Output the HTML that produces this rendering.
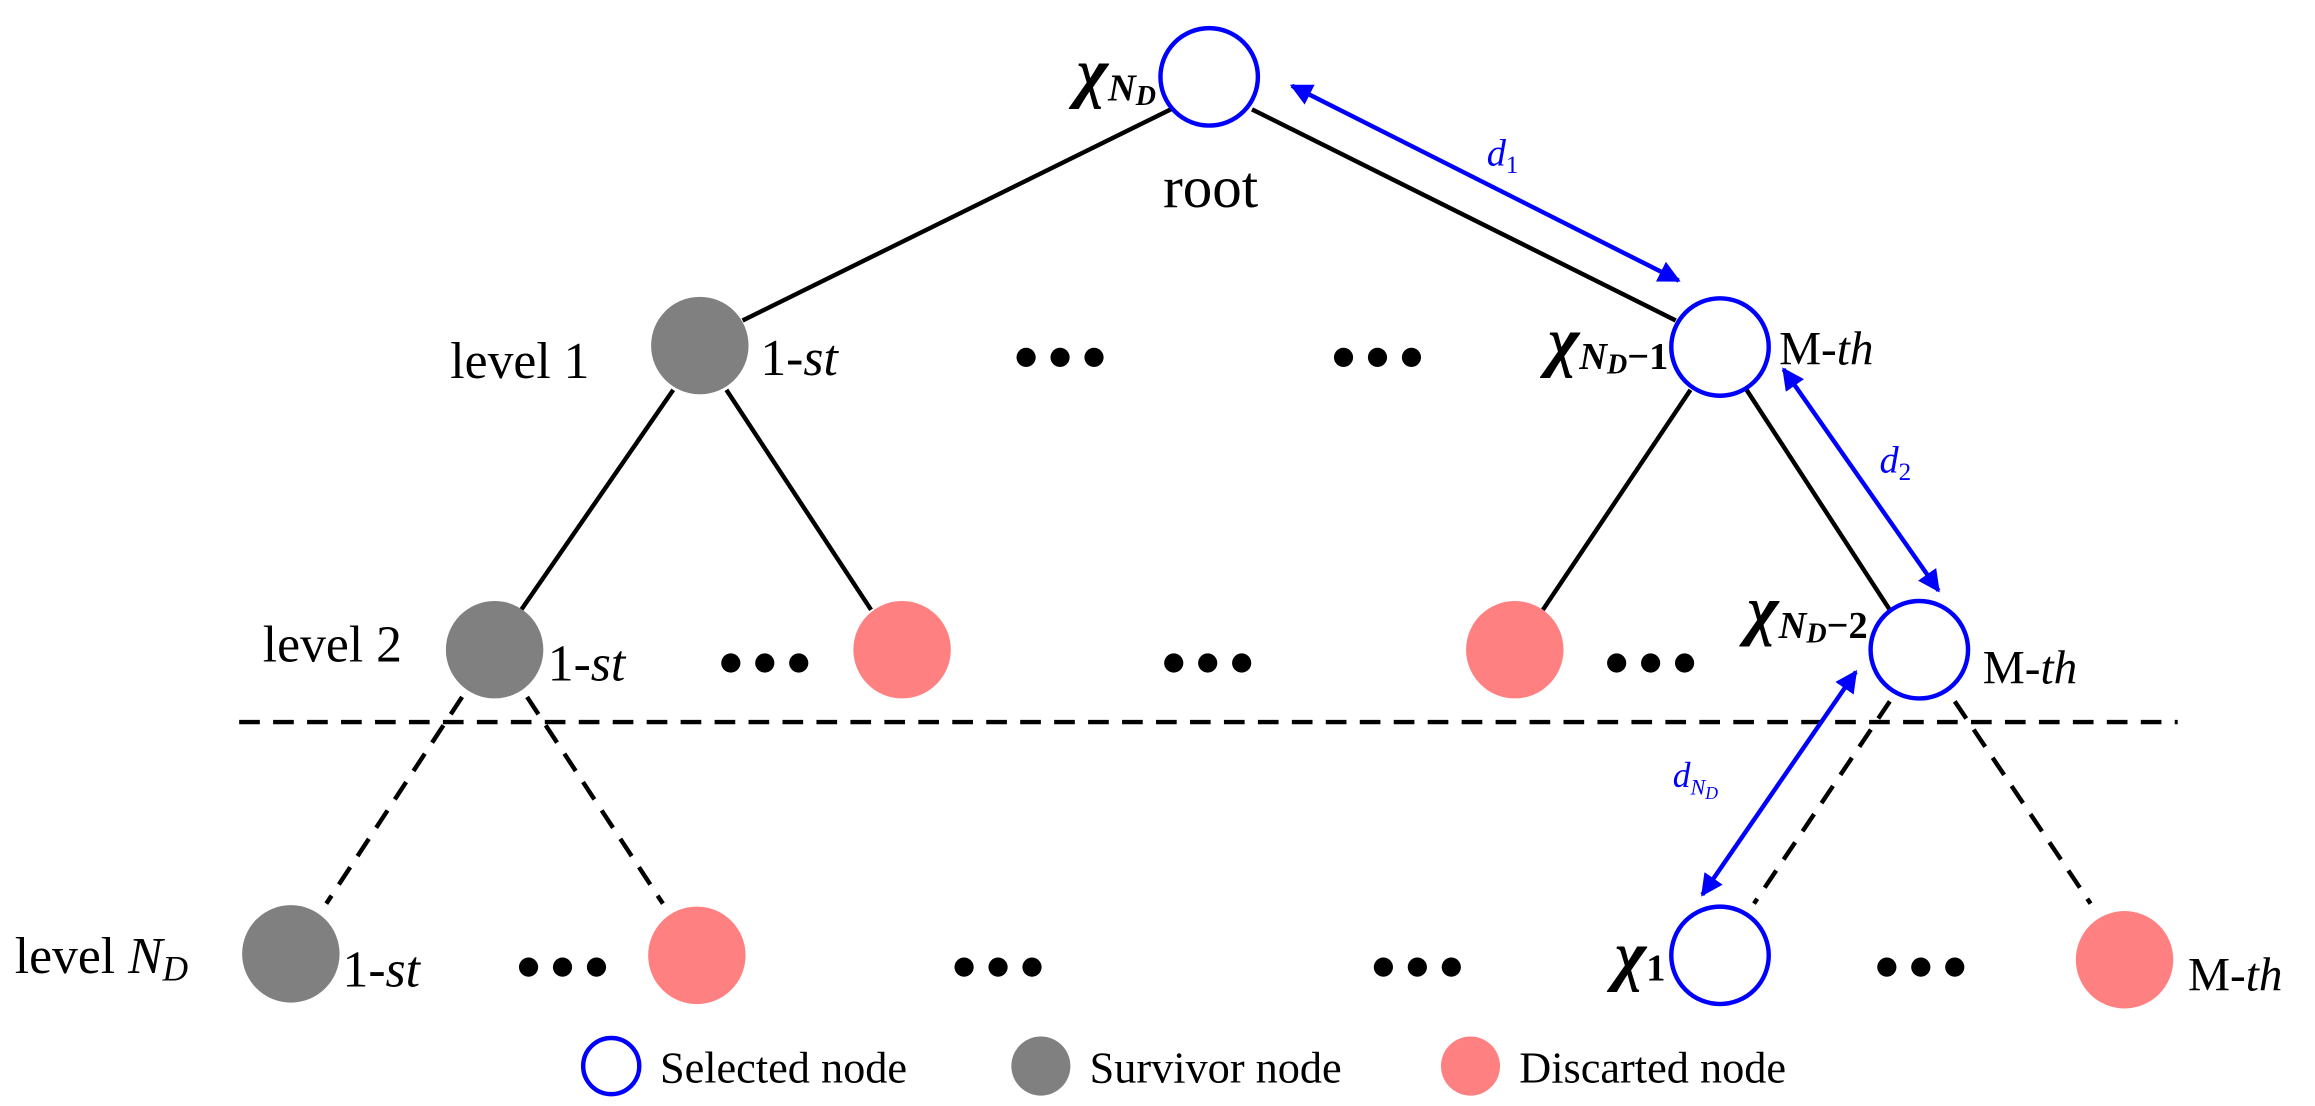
<!DOCTYPE html>
<html><head><style>
html,body{margin:0;padding:0;background:#fff;}
svg{display:block;}
text{font-family:"Liberation Serif",serif;}
</style></head><body>
<svg width="2315" height="1106" viewBox="0 0 1568 749" xmlns="http://www.w3.org/2000/svg">
<defs>
<marker id="ah" viewBox="0 0 10 10" refX="9" refY="5" markerWidth="5" markerHeight="5" orient="auto-start-reverse"><path d="M0,0 L10,5 L0,10 z" fill="#0000ff"/></marker>
</defs>
<g stroke="#000" stroke-width="3" fill="none">
<line x1="793" y1="74" x2="503" y2="217"/>
<line x1="848" y1="74" x2="1135" y2="217"/>
<line x1="456" y1="264" x2="353" y2="413"/>
<line x1="492" y1="264" x2="590" y2="413"/>
<line x1="1145" y1="264" x2="1045" y2="413"/>
<line x1="1183" y1="264" x2="1280" y2="413"/>
</g>
<g stroke="#000" stroke-width="3" fill="none" stroke-dasharray="14,9">
<line x1="162" y1="489" x2="1475" y2="489"/>
<line x1="313" y1="472" x2="221" y2="612"/>
<line x1="357" y1="472" x2="449" y2="612"/>
<line x1="1280" y1="475" x2="1188" y2="612"/>
<line x1="1324" y1="475" x2="1416" y2="612"/>
</g>
<g stroke="#0000ff" stroke-width="3" fill="none" marker-start="url(#ah)" marker-end="url(#ah)">
<line x1="875" y1="58" x2="1137" y2="190"/>
<line x1="1208" y1="250" x2="1313" y2="400"/>
<line x1="1257" y1="455" x2="1153" y2="606"/>
</g>
<g fill="#fff" stroke="#0000ff" stroke-width="3">
<circle cx="819" cy="52" r="33"/>
<circle cx="1165" cy="235" r="33"/>
<circle cx="1300" cy="440" r="33"/>
<circle cx="1165" cy="647" r="33"/>
<circle cx="414" cy="722" r="19"/>
</g>
<g fill="#808080">
<circle cx="474" cy="234" r="33"/>
<circle cx="335" cy="440" r="33"/>
<circle cx="197" cy="646" r="33"/>
<circle cx="705" cy="722" r="20"/>
</g>
<g fill="#ff8080">
<circle cx="611" cy="440" r="33"/>
<circle cx="1026" cy="440" r="33"/>
<circle cx="472" cy="647" r="33"/>
<circle cx="1439" cy="650" r="33"/>
<circle cx="996" cy="722" r="20"/>
</g>
<g fill="#000">
<circle cx="695" cy="242" r="6.5"/><circle cx="718" cy="242" r="6.5"/><circle cx="741" cy="242" r="6.5"/>
<circle cx="910" cy="242" r="6.5"/><circle cx="933" cy="242" r="6.5"/><circle cx="956" cy="242" r="6.5"/>
<circle cx="495" cy="449" r="6.5"/><circle cx="518" cy="449" r="6.5"/><circle cx="541" cy="449" r="6.5"/>
<circle cx="795" cy="449" r="6.5"/><circle cx="818" cy="449" r="6.5"/><circle cx="841" cy="449" r="6.5"/>
<circle cx="1095" cy="449" r="6.5"/><circle cx="1118" cy="449" r="6.5"/><circle cx="1141" cy="449" r="6.5"/>
<circle cx="358" cy="655" r="6.5"/><circle cx="381" cy="655" r="6.5"/><circle cx="404" cy="655" r="6.5"/>
<circle cx="653" cy="655" r="6.5"/><circle cx="676" cy="655" r="6.5"/><circle cx="699" cy="655" r="6.5"/>
<circle cx="937" cy="655" r="6.5"/><circle cx="960" cy="655" r="6.5"/><circle cx="983" cy="655" r="6.5"/>
<circle cx="1278" cy="655" r="6.5"/><circle cx="1301" cy="655" r="6.5"/><circle cx="1324" cy="655" r="6.5"/>
</g>
<g font-size="34" fill="#000">
<text x="783" y="64" text-anchor="end" font-weight="bold"><tspan font-style="italic" font-size="46">χ</tspan><tspan font-size="26" dy="4" font-style="italic">N<tspan font-size="19" dy="3">D</tspan></tspan></text>
<text x="820" y="140" text-anchor="middle" font-size="40">root</text>
<text x="305" y="256" font-size="35">level 1</text>
<text x="515" y="254" font-size="35">1-<tspan font-style="italic">st</tspan></text>
<text x="1130" y="246" text-anchor="end" font-weight="bold"><tspan font-style="italic" font-size="46">χ</tspan><tspan font-size="26" dy="4"><tspan font-style="italic">N</tspan><tspan font-size="19" dy="3" font-style="italic">D</tspan><tspan dy="-3">−1</tspan></tspan></text>
<text x="1205" y="247" font-size="32">M-<tspan font-style="italic">th</tspan></text>
<text x="178" y="448" font-size="35">level 2</text>
<text x="371" y="461" font-size="35">1-<tspan font-style="italic">st</tspan></text>
<text x="1265" y="428" text-anchor="end" font-weight="bold"><tspan font-style="italic" font-size="46">χ</tspan><tspan font-size="26" dy="4"><tspan font-style="italic">N</tspan><tspan font-size="19" dy="3" font-style="italic">D</tspan><tspan dy="-3">−2</tspan></tspan></text>
<text x="1343" y="463" font-size="32">M-<tspan font-style="italic">th</tspan></text>
<text x="10" y="659" font-size="35">level <tspan font-style="italic">N</tspan><tspan font-size="24" dy="5" font-style="italic">D</tspan></text>
<text x="232" y="668" font-size="35">1-<tspan font-style="italic">st</tspan></text>
<text x="1128" y="662" text-anchor="end" font-weight="bold"><tspan font-style="italic" font-size="46">χ</tspan><tspan font-size="26" dy="2">1</tspan></text>
<text x="1482" y="671" font-size="32">M-<tspan font-style="italic">th</tspan></text>
</g>
<g fill="#0000ff" font-style="italic">
<text x="1007" y="112" font-size="26">d<tspan font-size="17" dy="5" font-style="normal">1</tspan></text>
<text x="1273" y="320" font-size="26">d<tspan font-size="17" dy="5" font-style="normal">2</tspan></text>
<text x="1133" y="533" font-size="24">d<tspan font-size="15" dy="5">N<tspan font-size="12" dy="3">D</tspan></tspan></text>
</g>
<g font-size="30" fill="#000">
<text x="447" y="733">Selected node</text>
<text x="738" y="733">Survivor node</text>
<text x="1029" y="733">Discarted node</text>
</g>
</svg>
</body></html>
